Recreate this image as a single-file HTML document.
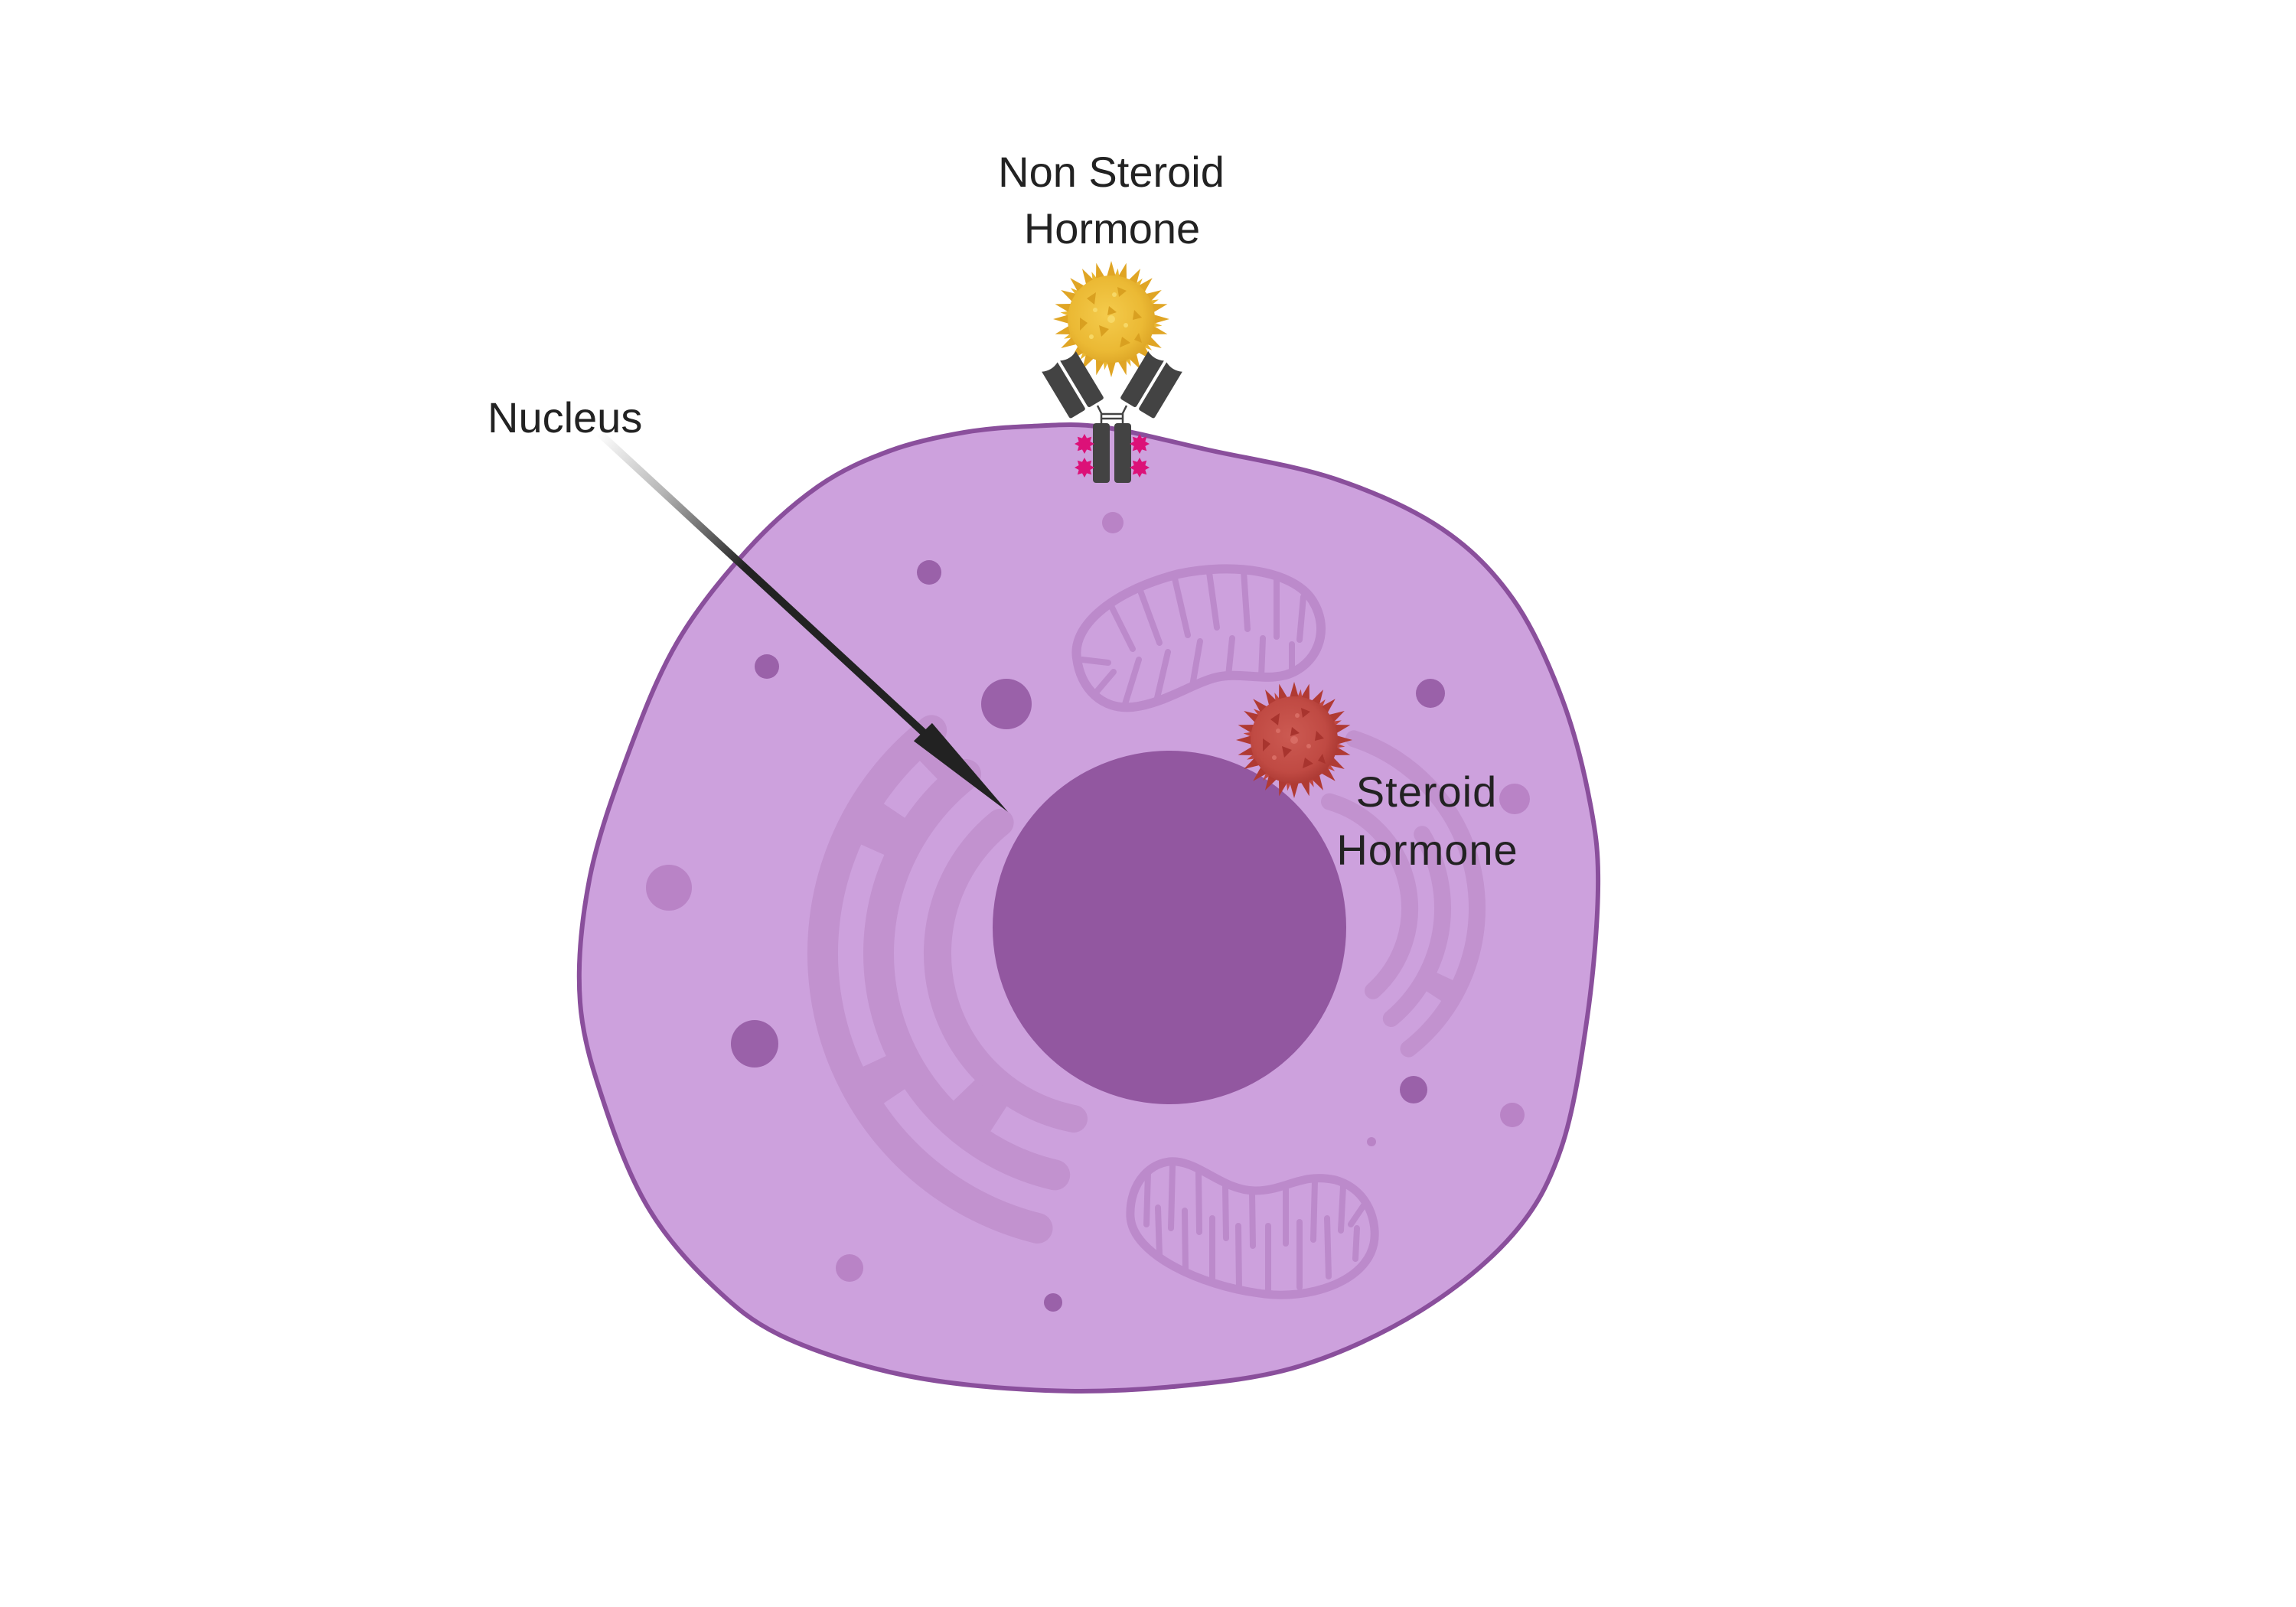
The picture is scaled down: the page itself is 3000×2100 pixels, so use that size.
<!DOCTYPE html>
<html>
<head>
<meta charset="utf-8">
<style>
  html,body{margin:0;padding:0;background:#ffffff;}
  svg{display:block;}
  .lbl{font-family:"Liberation Sans",Arial,sans-serif;font-size:56px;fill:#222222;}
</style>
</head>
<body>
<svg width="3000" height="2100" viewBox="0 0 3000 2100" xmlns="http://www.w3.org/2000/svg">
  <defs>
    <linearGradient id="arrowGrad" gradientUnits="userSpaceOnUse" x1="782" y1="565" x2="1206" y2="957">
      <stop offset="0" stop-color="#ffffff"/>
      <stop offset="0.2" stop-color="#b5b5b5"/>
      <stop offset="0.45" stop-color="#222222"/>
      <stop offset="1" stop-color="#222222"/>
    </linearGradient>
    <radialGradient id="yelGrad" cx="0.45" cy="0.45" r="0.6">
      <stop offset="0" stop-color="#f4cb4c"/>
      <stop offset="0.7" stop-color="#ebb934"/>
      <stop offset="1" stop-color="#dca425"/>
    </radialGradient>
    <radialGradient id="redGrad" cx="0.45" cy="0.45" r="0.6">
      <stop offset="0" stop-color="#cc5a52"/>
      <stop offset="0.7" stop-color="#c04a43"/>
      <stop offset="1" stop-color="#a93731"/>
    </radialGradient>
  </defs>

  <rect width="3000" height="2100" fill="#ffffff"/>

  <!-- Cell -->
  <path d="M1348,557 C1378,555.8 1401.5,552.8 1440,558 C1478.5,563.2 1528.2,576.7 1579,588 C1629.8,599.3 1694.2,608.8 1745,626 C1795.8,643.2 1845.3,664.8 1884,691 C1922.7,717.2 1950.8,746 1977,783 C2003.2,820 2024.2,868.3 2041,913 C2057.8,957.7 2070.2,1009.5 2078,1051 C2085.8,1092.5 2088.7,1115.7 2088,1162 C2087.3,1208.3 2082,1272.7 2074,1329 C2066,1385.3 2056.2,1452.7 2040,1500 C2023.8,1547.3 2007.7,1577.5 1977,1613 C1946.3,1648.5 1902.3,1684.3 1856,1713 C1809.7,1741.7 1752.8,1768.5 1699,1785 C1645.2,1801.5 1588.5,1806.7 1533,1812 C1477.5,1817.3 1424.7,1819.5 1366,1817 C1307.3,1814.5 1238,1808.7 1181,1797 C1124,1785.3 1065.7,1766.5 1024,1747 C982.3,1727.5 960.3,1707.8 931,1680 C901.7,1652.2 871.2,1618.3 848,1580 C824.8,1541.7 807,1495 792,1450 C777,1405 761.7,1360 758,1310 C754.3,1260 759.7,1203.8 770,1150 C780.3,1096.2 800.8,1038.8 820,987 C839.2,935.2 858.8,883.8 885,839 C911.2,794.2 946.2,752 977,718 C1007.8,684 1039,656.5 1070,635 C1101,613.5 1131.3,600.7 1163,589 C1194.7,577.3 1229.2,570.3 1260,565 C1290.8,559.7 1318,558.2 1348,557 Z"
        fill="#cda1dd" stroke="#8a4f9c" stroke-width="6"/>

  <!-- Left ER -->
  <g fill="none" stroke="#c292cf">
    <path d="M1355.5,1605 A370,370 0 0 1 1217.2,954.4" stroke-width="40" stroke-linecap="round"/>
    <path d="M1378.2,1535.4 A297,297 0 0 1 1262.1,1012.0" stroke-width="40" stroke-linecap="round"/>
    <path d="M1403.0,1462.0 A220,220 0 0 1 1306.6,1075.0" stroke-width="36" stroke-linecap="round"/>
    <path d="M1168.9,1432.2 A333,333 0 0 1 1143.2,1386.7" stroke-width="36"/>
    <path d="M1140.8,1110.6 A333,333 0 0 1 1168.9,1059.8" stroke-width="36"/>
    <path d="M1213.7,1006.5 A333,333 0 0 1 1240.0,983.6" stroke-width="36"/>
    <path d="M1304.8,1462.0 A257.5,257.5 0 0 1 1259.8,1424.9" stroke-width="42"/>
  </g>

  <!-- Right ER -->
  <g fill="none" stroke="#c292cf" stroke-width="22" stroke-linecap="round">
    <path d="M1769.0,965.4 A233,233 0 0 1 1840.5,1370.6"/>
    <path d="M1858.2,1090.2 A188,188 0 0 1 1817.8,1331.0"/>
    <path d="M1737.0,1047.6 A145,145 0 0 1 1794.0,1294.8"/>
    <path d="M1887.8,1276.0 A210.5,210.5 0 0 1 1873.5,1301.6" stroke-width="26" stroke-linecap="butt"/>
  </g>

  <!-- Dots -->
  <g fill="#9a61a9">
    <circle cx="1214" cy="748" r="16"/>
    <circle cx="1002" cy="871" r="16"/>
    <circle cx="1315" cy="920" r="33"/>
    <circle cx="1869" cy="906" r="19"/>
    <circle cx="986" cy="1364" r="31"/>
    <circle cx="1847" cy="1424" r="18"/>
    <circle cx="1376" cy="1702" r="12"/>
  </g>
  <g fill="#b983c6">
    <circle cx="1454" cy="683" r="14"/>
    <circle cx="1979" cy="1044" r="20"/>
    <circle cx="874" cy="1160" r="30"/>
    <circle cx="1976" cy="1457" r="16"/>
    <circle cx="1792" cy="1492" r="6"/>
    <circle cx="1110" cy="1657" r="18"/>
  </g>

  <!-- Mitochondrion top -->
  <g fill="none" stroke="#bc8acb" stroke-linecap="round">
    <path d="M1407,860 C1400,815 1460,770 1540,750 C1610,735 1690,745 1715,785 C1740,825 1720,870 1680,882 C1650,890 1620,878 1590,885 C1560,892 1520,920 1480,924 C1440,928 1412,900 1407,860 Z" stroke-width="12"/>
    <g stroke-width="8">
      <path d="M1414,862 L1448,866"/>
      <path d="M1452,792 L1480,848"/>
      <path d="M1490,772 L1515,840"/>
      <path d="M1535,756 L1552,830"/>
      <path d="M1580,748 L1590,820"/>
      <path d="M1625,746 L1630,822"/>
      <path d="M1668,755 L1668,832"/>
      <path d="M1703,780 L1698,836"/>
      <path d="M1432,905 L1455,878"/>
      <path d="M1470,920 L1488,862"/>
      <path d="M1512,912 L1526,852"/>
      <path d="M1558,896 L1568,838"/>
      <path d="M1605,883 L1610,834"/>
      <path d="M1648,885 L1650,834"/>
      <path d="M1688,878 L1688,842"/>
    </g>
  </g>

  <!-- Mitochondrion bottom -->
  <g fill="none" stroke="#bc8acb" stroke-linecap="round">
    <path d="M1477,1590 C1475,1545 1505,1515 1537,1518 C1570,1521 1600,1556 1640,1556 C1680,1556 1700,1532 1745,1542 C1790,1555 1800,1600 1795,1625 C1785,1675 1710,1700 1645,1690 C1570,1680 1480,1640 1477,1590 Z" stroke-width="11"/>
    <g stroke-width="8">
      <path d="M1500,1532 L1498,1600"/>
      <path d="M1532,1524 L1530,1605"/>
      <path d="M1566,1532 L1567,1610"/>
      <path d="M1601,1550 L1602,1618"/>
      <path d="M1636,1558 L1637,1628"/>
      <path d="M1680,1552 L1680,1625"/>
      <path d="M1718,1544 L1716,1620"/>
      <path d="M1755,1550 L1752,1608"/>
      <path d="M1782,1575 L1765,1600"/>
      <path d="M1515,1640 L1513,1578"/>
      <path d="M1549,1660 L1548,1582"/>
      <path d="M1584,1674 L1584,1592"/>
      <path d="M1619,1684 L1618,1602"/>
      <path d="M1657,1688 L1657,1602"/>
      <path d="M1698,1682 L1698,1597"/>
      <path d="M1736,1668 L1734,1592"/>
      <path d="M1771,1645 L1773,1605"/>
    </g>
  </g>

  <!-- Nucleus -->
  <circle cx="1528" cy="1212" r="231" fill="#9257a0"/>

  <!-- Steroid hormone (red) -->
  <g>
    <g fill="#b03a33">
      <polygon points="1685,912 1691,891 1697,912" transform="rotate(0 1691 967)"/>
      <polygon points="1685,912 1691,891 1697,912" transform="rotate(15 1691 967)"/>
      <polygon points="1685,912 1691,891 1697,912" transform="rotate(30 1691 967)"/>
      <polygon points="1685,912 1691,891 1697,912" transform="rotate(45 1691 967)"/>
      <polygon points="1685,912 1691,891 1697,912" transform="rotate(60 1691 967)"/>
      <polygon points="1685,912 1691,891 1697,912" transform="rotate(75 1691 967)"/>
      <polygon points="1685,912 1691,891 1697,912" transform="rotate(90 1691 967)"/>
      <polygon points="1685,912 1691,891 1697,912" transform="rotate(105 1691 967)"/>
      <polygon points="1685,912 1691,891 1697,912" transform="rotate(120 1691 967)"/>
      <polygon points="1685,912 1691,891 1697,912" transform="rotate(135 1691 967)"/>
      <polygon points="1685,912 1691,891 1697,912" transform="rotate(150 1691 967)"/>
      <polygon points="1685,912 1691,891 1697,912" transform="rotate(165 1691 967)"/>
      <polygon points="1685,912 1691,891 1697,912" transform="rotate(180 1691 967)"/>
      <polygon points="1685,912 1691,891 1697,912" transform="rotate(195 1691 967)"/>
      <polygon points="1685,912 1691,891 1697,912" transform="rotate(210 1691 967)"/>
      <polygon points="1685,912 1691,891 1697,912" transform="rotate(225 1691 967)"/>
      <polygon points="1685,912 1691,891 1697,912" transform="rotate(240 1691 967)"/>
      <polygon points="1685,912 1691,891 1697,912" transform="rotate(255 1691 967)"/>
      <polygon points="1685,912 1691,891 1697,912" transform="rotate(270 1691 967)"/>
      <polygon points="1685,912 1691,891 1697,912" transform="rotate(285 1691 967)"/>
      <polygon points="1685,912 1691,891 1697,912" transform="rotate(300 1691 967)"/>
      <polygon points="1685,912 1691,891 1697,912" transform="rotate(315 1691 967)"/>
      <polygon points="1685,912 1691,891 1697,912" transform="rotate(330 1691 967)"/>
      <polygon points="1685,912 1691,891 1697,912" transform="rotate(345 1691 967)"/>
    </g>
    <g fill="#c0463f">
      <polygon points="1687,914 1691,900 1695,914" transform="rotate(7.5 1691 967)"/>
      <polygon points="1687,914 1691,900 1695,914" transform="rotate(37.5 1691 967)"/>
      <polygon points="1687,914 1691,900 1695,914" transform="rotate(67.5 1691 967)"/>
      <polygon points="1687,914 1691,900 1695,914" transform="rotate(97.5 1691 967)"/>
      <polygon points="1687,914 1691,900 1695,914" transform="rotate(127.5 1691 967)"/>
      <polygon points="1687,914 1691,900 1695,914" transform="rotate(157.5 1691 967)"/>
      <polygon points="1687,914 1691,900 1695,914" transform="rotate(187.5 1691 967)"/>
      <polygon points="1687,914 1691,900 1695,914" transform="rotate(217.5 1691 967)"/>
      <polygon points="1687,914 1691,900 1695,914" transform="rotate(247.5 1691 967)"/>
      <polygon points="1687,914 1691,900 1695,914" transform="rotate(277.5 1691 967)"/>
      <polygon points="1687,914 1691,900 1695,914" transform="rotate(307.5 1691 967)"/>
      <polygon points="1687,914 1691,900 1695,914" transform="rotate(337.5 1691 967)"/>
    </g>
    <circle cx="1691" cy="967" r="57" fill="url(#redGrad)"/>
    <g fill="#a8342e">
      <polygon points="1660,940 1672,932 1670,948"/>
      <polygon points="1700,925 1712,930 1702,938"/>
      <polygon points="1720,955 1730,965 1718,968"/>
      <polygon points="1675,975 1688,980 1678,990"/>
      <polygon points="1705,990 1716,998 1702,1004"/>
      <polygon points="1650,965 1660,972 1650,982"/>
      <polygon points="1688,950 1698,958 1686,962"/>
      <polygon points="1728,985 1732,998 1722,994"/>
    </g>
    <g fill="#d86c64">
      <circle cx="1691" cy="967" r="5"/>
      <circle cx="1670" cy="955" r="3"/>
      <circle cx="1710" cy="975" r="3"/>
      <circle cx="1695" cy="935" r="3"/>
      <circle cx="1665" cy="990" r="3"/>
    </g>
  </g>

  <!-- Non steroid hormone (yellow) -->
  <g>
    <g fill="#e0a524">
      <polygon points="1446,362 1452,341 1458,362" transform="rotate(0 1452 417)"/>
      <polygon points="1446,362 1452,341 1458,362" transform="rotate(15 1452 417)"/>
      <polygon points="1446,362 1452,341 1458,362" transform="rotate(30 1452 417)"/>
      <polygon points="1446,362 1452,341 1458,362" transform="rotate(45 1452 417)"/>
      <polygon points="1446,362 1452,341 1458,362" transform="rotate(60 1452 417)"/>
      <polygon points="1446,362 1452,341 1458,362" transform="rotate(75 1452 417)"/>
      <polygon points="1446,362 1452,341 1458,362" transform="rotate(90 1452 417)"/>
      <polygon points="1446,362 1452,341 1458,362" transform="rotate(105 1452 417)"/>
      <polygon points="1446,362 1452,341 1458,362" transform="rotate(120 1452 417)"/>
      <polygon points="1446,362 1452,341 1458,362" transform="rotate(135 1452 417)"/>
      <polygon points="1446,362 1452,341 1458,362" transform="rotate(150 1452 417)"/>
      <polygon points="1446,362 1452,341 1458,362" transform="rotate(165 1452 417)"/>
      <polygon points="1446,362 1452,341 1458,362" transform="rotate(180 1452 417)"/>
      <polygon points="1446,362 1452,341 1458,362" transform="rotate(195 1452 417)"/>
      <polygon points="1446,362 1452,341 1458,362" transform="rotate(210 1452 417)"/>
      <polygon points="1446,362 1452,341 1458,362" transform="rotate(225 1452 417)"/>
      <polygon points="1446,362 1452,341 1458,362" transform="rotate(240 1452 417)"/>
      <polygon points="1446,362 1452,341 1458,362" transform="rotate(255 1452 417)"/>
      <polygon points="1446,362 1452,341 1458,362" transform="rotate(270 1452 417)"/>
      <polygon points="1446,362 1452,341 1458,362" transform="rotate(285 1452 417)"/>
      <polygon points="1446,362 1452,341 1458,362" transform="rotate(300 1452 417)"/>
      <polygon points="1446,362 1452,341 1458,362" transform="rotate(315 1452 417)"/>
      <polygon points="1446,362 1452,341 1458,362" transform="rotate(330 1452 417)"/>
      <polygon points="1446,362 1452,341 1458,362" transform="rotate(345 1452 417)"/>
    </g>
    <g fill="#eab630">
      <polygon points="1448,364 1452,350 1456,364" transform="rotate(7.5 1452 417)"/>
      <polygon points="1448,364 1452,350 1456,364" transform="rotate(37.5 1452 417)"/>
      <polygon points="1448,364 1452,350 1456,364" transform="rotate(67.5 1452 417)"/>
      <polygon points="1448,364 1452,350 1456,364" transform="rotate(97.5 1452 417)"/>
      <polygon points="1448,364 1452,350 1456,364" transform="rotate(127.5 1452 417)"/>
      <polygon points="1448,364 1452,350 1456,364" transform="rotate(157.5 1452 417)"/>
      <polygon points="1448,364 1452,350 1456,364" transform="rotate(187.5 1452 417)"/>
      <polygon points="1448,364 1452,350 1456,364" transform="rotate(217.5 1452 417)"/>
      <polygon points="1448,364 1452,350 1456,364" transform="rotate(247.5 1452 417)"/>
      <polygon points="1448,364 1452,350 1456,364" transform="rotate(277.5 1452 417)"/>
      <polygon points="1448,364 1452,350 1456,364" transform="rotate(307.5 1452 417)"/>
      <polygon points="1448,364 1452,350 1456,364" transform="rotate(337.5 1452 417)"/>
    </g>
    <circle cx="1452" cy="417" r="57" fill="url(#yelGrad)"/>
    <g fill="#d9a020">
      <polygon points="1420,390 1432,382 1430,398"/>
      <polygon points="1460,375 1472,380 1462,388"/>
      <polygon points="1482,405 1492,415 1480,418"/>
      <polygon points="1436,425 1449,430 1439,440"/>
      <polygon points="1466,440 1477,448 1463,454"/>
      <polygon points="1411,415 1421,422 1411,432"/>
      <polygon points="1449,400 1459,408 1447,412"/>
      <polygon points="1488,435 1492,448 1482,444"/>
    </g>
    <g fill="#f7d866">
      <circle cx="1452" cy="417" r="5"/>
      <circle cx="1431" cy="405" r="3"/>
      <circle cx="1471" cy="425" r="3"/>
      <circle cx="1456" cy="385" r="3"/>
      <circle cx="1426" cy="440" r="3"/>
    </g>
  </g>

  <!-- Antibody / receptor -->
  <g fill="#434343">
    <g transform="translate(1414,496) rotate(-31)">
      <path d="M-12,-36 Q0,-30 12,-36 L12,33 Q12,36 9,36 L-9,36 Q-12,36 -12,33 Z"/>
    </g>
    <g transform="translate(1390,510.4) rotate(-31)">
      <path d="M-12,-36 Q0,-30 12,-36 L12,33 Q12,36 9,36 L-9,36 Q-12,36 -12,33 Z"/>
    </g>
    <g transform="translate(1492,496) rotate(31)">
      <path d="M-12,-36 Q0,-30 12,-36 L12,33 Q12,36 9,36 L-9,36 Q-12,36 -12,33 Z"/>
    </g>
    <g transform="translate(1516,510.4) rotate(31)">
      <path d="M-12,-36 Q0,-30 12,-36 L12,33 Q12,36 9,36 L-9,36 Q-12,36 -12,33 Z"/>
    </g>
    <rect x="1428" y="553" width="22" height="78" rx="4"/>
    <rect x="1456" y="553" width="22" height="78" rx="4"/>
  </g>
  <g stroke="#434343" stroke-width="2.5" fill="none">
    <path d="M1439,554 L1439,540 L1434,530"/>
    <path d="M1467,554 L1467,540 L1472,530"/>
    <line x1="1439" y1="541" x2="1467" y2="541"/>
    <line x1="1439" y1="547" x2="1467" y2="547"/>
  </g>
  <g fill="#dc1178">
    <polygon transform="translate(1417,580)" points="0,-13 3.06,-7.39 9.19,-9.19 7.39,-3.06 13,0 7.39,3.06 9.19,9.19 3.06,7.39 0,13 -3.06,7.39 -9.19,9.19 -7.39,3.06 -13,0 -7.39,-3.06 -9.19,-9.19 -3.06,-7.39"/>
    <polygon transform="translate(1417,611)" points="0,-13 3.06,-7.39 9.19,-9.19 7.39,-3.06 13,0 7.39,3.06 9.19,9.19 3.06,7.39 0,13 -3.06,7.39 -9.19,9.19 -7.39,3.06 -13,0 -7.39,-3.06 -9.19,-9.19 -3.06,-7.39"/>
    <polygon transform="translate(1489,580)" points="0,-13 3.06,-7.39 9.19,-9.19 7.39,-3.06 13,0 7.39,3.06 9.19,9.19 3.06,7.39 0,13 -3.06,7.39 -9.19,9.19 -7.39,3.06 -13,0 -7.39,-3.06 -9.19,-9.19 -3.06,-7.39"/>
    <polygon transform="translate(1489,611)" points="0,-13 3.06,-7.39 9.19,-9.19 7.39,-3.06 13,0 7.39,3.06 9.19,9.19 3.06,7.39 0,13 -3.06,7.39 -9.19,9.19 -7.39,3.06 -13,0 -7.39,-3.06 -9.19,-9.19 -3.06,-7.39"/>
  </g>

  <!-- Arrow -->
  <line x1="782" y1="565" x2="1212" y2="962" stroke="url(#arrowGrad)" stroke-width="10"/>
  <polygon points="1193.9,968.4 1317,1061 1217.9,944.9" fill="#222222"/>

  <!-- Labels -->
  <text class="lbl" x="1452" y="244" text-anchor="middle">Non Steroid</text>
  <text class="lbl" x="1453" y="318" text-anchor="middle">Hormone</text>
  <text class="lbl" x="637" y="565">Nucleus</text>
  <text class="lbl" x="1864" y="1054" text-anchor="middle" letter-spacing="1">Steroid</text>
  <text class="lbl" x="1865" y="1130" text-anchor="middle" letter-spacing="1">Hormone</text>
</svg>
</body>
</html>
